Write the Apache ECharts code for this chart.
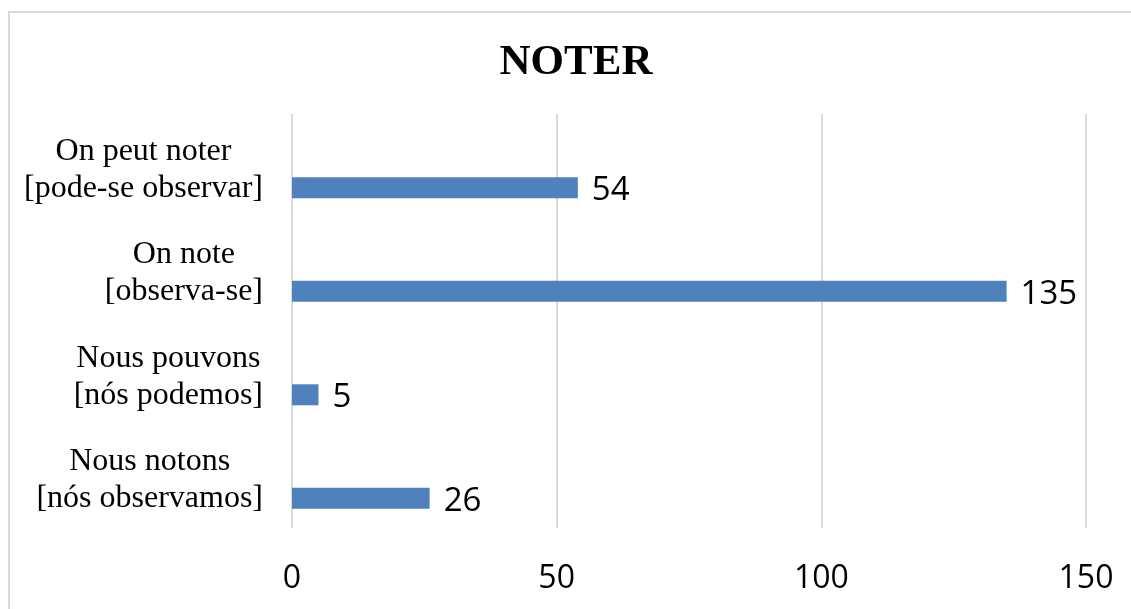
<!DOCTYPE html>
<html>
<head>
<meta charset="utf-8">
<script src="https://cdn.jsdelivr.net/npm/echarts@6/dist/echarts.min.js"></script>
<style>
html,body{margin:0;padding:0;background:#fff;}
#chart{width:1131px;height:609px;}
</style>
</head>
<body>
<div id="chart"></div>
<script>
const titleText = 'NOTER';
const categoryLine1 = ['On peut noter', 'On note', 'Nous pouvons', 'Nous notons'];
const categoryLine2 = ['[pode-se observar]', '[observa-se]', '[nós podemos]', '[nós observamos]'];
const values = [54, 135, 5, 26];
const axisMin = 0;
const axisMax = 150;
const axisInterval = 50;

const categories = categoryLine1.map((l, i) => l + '\n' + categoryLine2[i]);

const chart = echarts.init(document.getElementById('chart'));
chart.setOption({
  backgroundColor: '#ffffff',
  animation: false,
  title: {
    text: titleText,
    left: 571,
    textAlign: 'center',
    top: 36,
    textStyle: {
      fontFamily: 'Liberation Serif',
      fontWeight: 'bold',
      fontSize: 43,
      color: '#000000'
    }
  },
  graphic: [{
    type: 'rect',
    shape: { x: 9, y: 12, width: 1200, height: 700 },
    style: { fill: 'none', stroke: '#d9d9d9', lineWidth: 2 },
    silent: true
  }],
  grid: { left: 292, right: 45, top: 114, bottom: 81, containLabel: false },
  xAxis: {
    type: 'value',
    min: axisMin,
    max: axisMax,
    interval: axisInterval,
    axisLine: { show: false },
    axisTick: { show: false },
    splitLine: { show: true, lineStyle: { color: '#d9d9d9', width: 2 } },
    axisLabel: {
      margin: 35,
      fontFamily: 'Open Sans',
      fontSize: 32,
      color: '#000000'
    }
  },
  yAxis: {
    type: 'category',
    inverse: true,
    data: categories,
    axisLine: { show: false },
    axisTick: { show: false },
    splitLine: { show: false },
    axisLabel: {
      margin: 29,
      align: 'right',
      padding: [8, 0, 0, 0],
      formatter: function (v) {
        const parts = v.split('\n');
        return '{c|' + parts[0] + '}\n{c|' + parts[1] + '}';
      },
      rich: {
        c: {
          align: 'center',
          fontFamily: 'Liberation Serif',
          fontSize: 32,
          lineHeight: 37,
          color: '#000000'
        }
      }
    }
  },
  series: [
    {
      type: 'bar',
      name: 'spacer',
      data: [],
      barWidth: 21,
      barGap: '110%',
      silent: true
    },
    {
      type: 'bar',
      name: 'NOTER',
      data: values,
      barWidth: 21,
      barGap: '110%',
      itemStyle: { color: '#4f81bd' },
      label: {
        show: true,
        position: 'right',
        distance: 14,
        fontFamily: 'Open Sans',
        fontSize: 33,
        color: '#000000',
        offset: [0, 3]
      }
    }
  ]
});
</script>
</body>
</html>
